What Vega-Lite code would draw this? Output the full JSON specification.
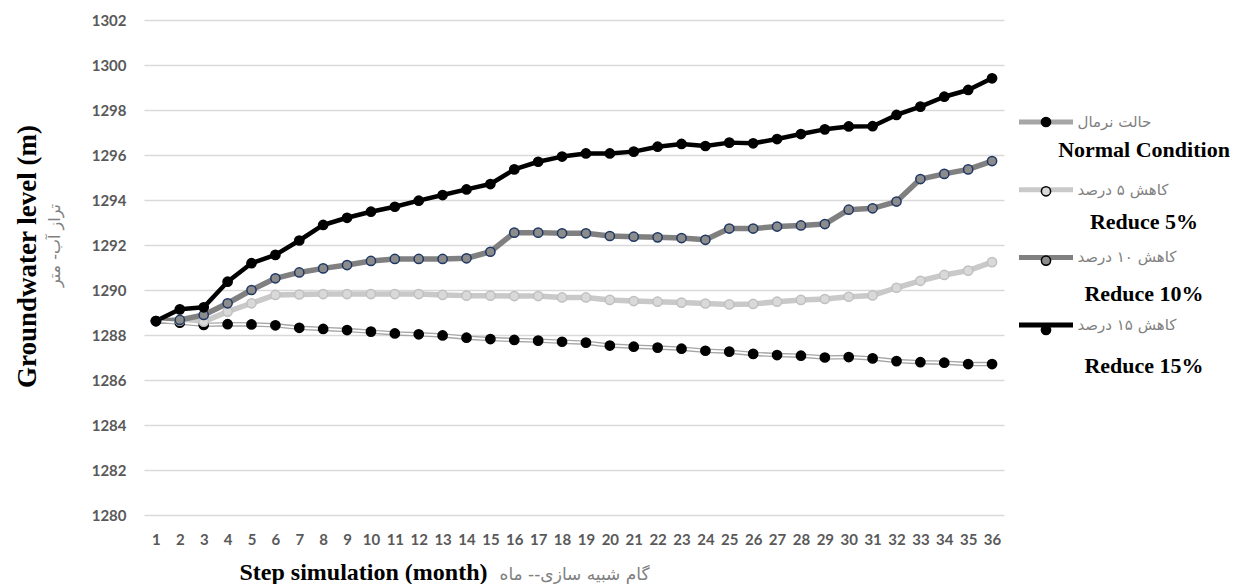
{
"$schema": "https://vega.github.io/schema/vega-lite/v6.json",
"width": 860,
"height": 495,
"padding": {"left": 13, "top": 13, "right": 0, "bottom": 0},
"background": "#ffffff",
"config": {"view": {"stroke": null}, "legend": {"padding": 0, "titlePadding": 0}},
"data": {"values": [
{"step":1,"key":"N","level":1288.62},{"step":2,"key":"N","level":1288.55},{"step":3,"key":"N","level":1288.45},{"step":4,"key":"N","level":1288.48},{"step":5,"key":"N","level":1288.47},{"step":6,"key":"N","level":1288.43},{"step":7,"key":"N","level":1288.32},{"step":8,"key":"N","level":1288.27},{"step":9,"key":"N","level":1288.22},{"step":10,"key":"N","level":1288.15},{"step":11,"key":"N","level":1288.07},{"step":12,"key":"N","level":1288.03},{"step":13,"key":"N","level":1287.98},{"step":14,"key":"N","level":1287.88},{"step":15,"key":"N","level":1287.82},{"step":16,"key":"N","level":1287.78},{"step":17,"key":"N","level":1287.75},{"step":18,"key":"N","level":1287.70},{"step":19,"key":"N","level":1287.66},{"step":20,"key":"N","level":1287.53},{"step":21,"key":"N","level":1287.48},{"step":22,"key":"N","level":1287.44},{"step":23,"key":"N","level":1287.39},{"step":24,"key":"N","level":1287.30},{"step":25,"key":"N","level":1287.26},{"step":26,"key":"N","level":1287.16},{"step":27,"key":"N","level":1287.11},{"step":28,"key":"N","level":1287.08},{"step":29,"key":"N","level":1287.00},{"step":30,"key":"N","level":1287.02},{"step":31,"key":"N","level":1286.96},{"step":32,"key":"N","level":1286.84},{"step":33,"key":"N","level":1286.79},{"step":34,"key":"N","level":1286.77},{"step":35,"key":"N","level":1286.71},{"step":36,"key":"N","level":1286.71},
{"step":1,"key":"R5","level":1288.62},{"step":2,"key":"R5","level":1288.64},{"step":3,"key":"R5","level":1288.59},{"step":4,"key":"R5","level":1289.04},{"step":5,"key":"R5","level":1289.41},{"step":6,"key":"R5","level":1289.78},{"step":7,"key":"R5","level":1289.80},{"step":8,"key":"R5","level":1289.82},{"step":9,"key":"R5","level":1289.82},{"step":10,"key":"R5","level":1289.82},{"step":11,"key":"R5","level":1289.82},{"step":12,"key":"R5","level":1289.82},{"step":13,"key":"R5","level":1289.78},{"step":14,"key":"R5","level":1289.75},{"step":15,"key":"R5","level":1289.75},{"step":16,"key":"R5","level":1289.73},{"step":17,"key":"R5","level":1289.73},{"step":18,"key":"R5","level":1289.67},{"step":19,"key":"R5","level":1289.67},{"step":20,"key":"R5","level":1289.56},{"step":21,"key":"R5","level":1289.51},{"step":22,"key":"R5","level":1289.48},{"step":23,"key":"R5","level":1289.44},{"step":24,"key":"R5","level":1289.40},{"step":25,"key":"R5","level":1289.36},{"step":26,"key":"R5","level":1289.38},{"step":27,"key":"R5","level":1289.48},{"step":28,"key":"R5","level":1289.56},{"step":29,"key":"R5","level":1289.60},{"step":30,"key":"R5","level":1289.70},{"step":31,"key":"R5","level":1289.76},{"step":32,"key":"R5","level":1290.10},{"step":33,"key":"R5","level":1290.41},{"step":34,"key":"R5","level":1290.67},{"step":35,"key":"R5","level":1290.86},{"step":36,"key":"R5","level":1291.24},
{"step":1,"key":"R10","level":1288.62},{"step":2,"key":"R10","level":1288.67},{"step":3,"key":"R10","level":1288.89},{"step":4,"key":"R10","level":1289.41},{"step":5,"key":"R10","level":1290.00},{"step":6,"key":"R10","level":1290.52},{"step":7,"key":"R10","level":1290.78},{"step":8,"key":"R10","level":1290.96},{"step":9,"key":"R10","level":1291.11},{"step":10,"key":"R10","level":1291.29},{"step":11,"key":"R10","level":1291.38},{"step":12,"key":"R10","level":1291.38},{"step":13,"key":"R10","level":1291.38},{"step":14,"key":"R10","level":1291.41},{"step":15,"key":"R10","level":1291.70},{"step":16,"key":"R10","level":1292.55},{"step":17,"key":"R10","level":1292.55},{"step":18,"key":"R10","level":1292.52},{"step":19,"key":"R10","level":1292.52},{"step":20,"key":"R10","level":1292.40},{"step":21,"key":"R10","level":1292.37},{"step":22,"key":"R10","level":1292.34},{"step":23,"key":"R10","level":1292.31},{"step":24,"key":"R10","level":1292.23},{"step":25,"key":"R10","level":1292.73},{"step":26,"key":"R10","level":1292.73},{"step":27,"key":"R10","level":1292.82},{"step":28,"key":"R10","level":1292.87},{"step":29,"key":"R10","level":1292.93},{"step":30,"key":"R10","level":1293.57},{"step":31,"key":"R10","level":1293.63},{"step":32,"key":"R10","level":1293.93},{"step":33,"key":"R10","level":1294.93},{"step":34,"key":"R10","level":1295.16},{"step":35,"key":"R10","level":1295.36},{"step":36,"key":"R10","level":1295.73},
{"step":1,"key":"R15","level":1288.62},{"step":2,"key":"R15","level":1289.14},{"step":3,"key":"R15","level":1289.23},{"step":4,"key":"R15","level":1290.37},{"step":5,"key":"R15","level":1291.19},{"step":6,"key":"R15","level":1291.56},{"step":7,"key":"R15","level":1292.20},{"step":8,"key":"R15","level":1292.89},{"step":9,"key":"R15","level":1293.21},{"step":10,"key":"R15","level":1293.48},{"step":11,"key":"R15","level":1293.70},{"step":12,"key":"R15","level":1293.97},{"step":13,"key":"R15","level":1294.22},{"step":14,"key":"R15","level":1294.47},{"step":15,"key":"R15","level":1294.71},{"step":16,"key":"R15","level":1295.36},{"step":17,"key":"R15","level":1295.70},{"step":18,"key":"R15","level":1295.93},{"step":19,"key":"R15","level":1296.07},{"step":20,"key":"R15","level":1296.07},{"step":21,"key":"R15","level":1296.15},{"step":22,"key":"R15","level":1296.37},{"step":23,"key":"R15","level":1296.49},{"step":24,"key":"R15","level":1296.40},{"step":25,"key":"R15","level":1296.55},{"step":26,"key":"R15","level":1296.52},{"step":27,"key":"R15","level":1296.71},{"step":28,"key":"R15","level":1296.93},{"step":29,"key":"R15","level":1297.14},{"step":30,"key":"R15","level":1297.27},{"step":31,"key":"R15","level":1297.28},{"step":32,"key":"R15","level":1297.78},{"step":33,"key":"R15","level":1298.15},{"step":34,"key":"R15","level":1298.59},{"step":35,"key":"R15","level":1298.89},{"step":36,"key":"R15","level":1299.41}
]},
"transform": [{"lookup": "key", "from": {"data": {"values": [
  {"key": "N", "fa": "حالت نرمال", "en": "Normal Condition"},
  {"key": "R5", "fa": "کاهش ۵ درصد", "en": "Reduce 5%"},
  {"key": "R10", "fa": "کاهش ۱۰ درصد", "en": "Reduce 10%"},
  {"key": "R15", "fa": "کاهش ۱۵ درصد", "en": "Reduce 15%"}
]}, "key": "key", "fields": ["fa", "en"]}}],
"resolve": {"axis": {"x": "independent", "y": "independent"}, "scale": {"x": "shared", "y": "shared"}},
"layer": [
{
 "mark": {"type": "line", "strokeCap": "round", "strokeJoin": "round"},
 "encoding": {
  "x": {"field": "step", "type": "quantitative", "scale": {"domain": [0.5, 36.5], "nice": false, "zero": false},
   "axis": {"orient": "bottom", "values": [1,2,3,4,5,6,7,8,9,10,11,12,13,14,15,16,17,18,19,20,21,22,23,24,25,26,27,28,29,30,31,32,33,34,35,36], "format": "d", "labelAngle": 0, "labelFont": "Lato", "labelFontSize": 15, "labelFontWeight": "bold", "labelColor": "#595959", "labelPadding": 17, "labelOverlap": false, "labelFlush": false, "ticks": false, "domain": false, "grid": false,
    "title": "Step simulation (month)", "titleFont": "Liberation Serif", "titleFontSize": 24, "titleFontWeight": "bold", "titleColor": "#000000", "titleX": 95, "titleY": 64, "titleAlign": "left", "titleBaseline": "alphabetic"}},
  "y": {"field": "level", "type": "quantitative", "scale": {"domain": [1280, 1302], "nice": false, "zero": false},
   "axis": {"orient": "left", "values": [1280,1282,1284,1286,1288,1290,1292,1294,1296,1298,1300,1302], "format": "d", "labelFont": "Lato", "labelFontSize": 15, "labelFontWeight": "bold", "labelColor": "#595959", "labelPadding": 18, "ticks": false, "domain": false, "grid": true, "gridColor": "#d9d9d9", "gridWidth": 1.3,
    "title": "Groundwater level (m)", "titleFont": "Liberation Serif", "titleFontSize": 27, "titleFontWeight": "bold", "titleColor": "#000000", "titlePadding": 50, "titleY": 236}},
  "stroke": {"field": "fa", "type": "nominal",
   "scale": {"domain": ["حالت نرمال", "کاهش ۵ درصد", "کاهش ۱۰ درصد", "کاهش ۱۵ درصد"], "range": ["#a6a6a6", "#c9c9c9", "#808080", "#000000"]},
   "legend": {"orient": "none", "legendX": 872.5, "legendY": 72.5, "title": null, "symbolType": "stroke", "symbolSize": 2916, "symbolStrokeWidth": 5, "labelFont": "DejaVu Sans", "labelFontSize": 15, "labelColor": "#7f7f7f", "labelOffset": 2, "rowPadding": 27.7, "labelLimit": 300}},
  "strokeWidth": {"condition": [{"test": "datum.key === 'N'", "value": 4.5}, {"test": "datum.key === 'R15'", "value": 4.5}], "value": 5.5}
 }
},
{
 "transform": [{"filter": "datum.key === 'N'"}],
 "mark": {"type": "line", "stroke": "#ffffff", "strokeWidth": 1.8},
 "encoding": {
  "x": {"field": "step", "type": "quantitative", "axis": null},
  "y": {"field": "level", "type": "quantitative", "axis": null}
 }
},
{
 "mark": {"type": "point", "filled": true, "size": 85, "strokeWidth": 1.5, "opacity": 1},
 "encoding": {
  "x": {"field": "step", "type": "quantitative",
   "axis": {"orient": "bottom", "labels": false, "ticks": false, "domain": false, "grid": false,
    "title": "گام شبیه سازی-- ماه", "titleFont": "DejaVu Sans", "titleFontSize": 17, "titleFontWeight": "normal", "titleColor": "#808080", "titleX": 355, "titleY": 64, "titleAlign": "left", "titleBaseline": "alphabetic"}},
  "y": {"field": "level", "type": "quantitative",
   "axis": {"orient": "left", "labels": false, "ticks": false, "domain": false, "grid": false,
    "title": "تراز آب- متر", "titleFont": "DejaVu Sans", "titleFontSize": 16, "titleFontWeight": "normal", "titleColor": "#808080", "titlePadding": 82, "titleY": 225}},
  "fill": {"field": "key", "type": "nominal",
   "scale": {"domain": ["N", "R5", "R10", "R15"], "range": ["#000000", "#d9d9d9", "#8c8c8c", "#000000"]},
   "legend": {"orient": "none", "legendX": 896.5, "legendY": 96.5, "title": null, "symbolType": "circle", "symbolSize": 85, "symbolStrokeWidth": 1.5, "labelExpr": "''", "labelFontSize": 10, "rowPadding": 52.3,
    "encode": {"symbols": {"update": {"stroke": {"signal": "datum.value === 'R10' ? '#1f3864' : (datum.value === 'R5' ? '#c0c0c0' : '#000000')"}, "opacity": {"value": 1}}}}}},
  "shape": {"field": "en", "type": "nominal",
   "scale": {"domain": ["Normal Condition", "Reduce 5%", "Reduce 10%", "Reduce 15%"], "range": ["circle"]},
   "legend": {"orient": "none", "legendX": 978, "legendY": 119, "title": null, "symbolOpacity": 0, "symbolSize": 1, "symbolStrokeWidth": 0, "labelFont": "Liberation Serif", "labelFontSize": 22, "labelFontWeight": "bold", "labelColor": "#000000", "labelAlign": "center", "labelOffset": 0, "rowPadding": 50, "labelLimit": 300}},
  "stroke": {"condition": [{"test": "datum.key === 'R10'", "value": "#1f3864"}, {"test": "datum.key === 'R5'", "value": "#c0c0c0"}], "value": "#000000"}
 }
}
]
}
